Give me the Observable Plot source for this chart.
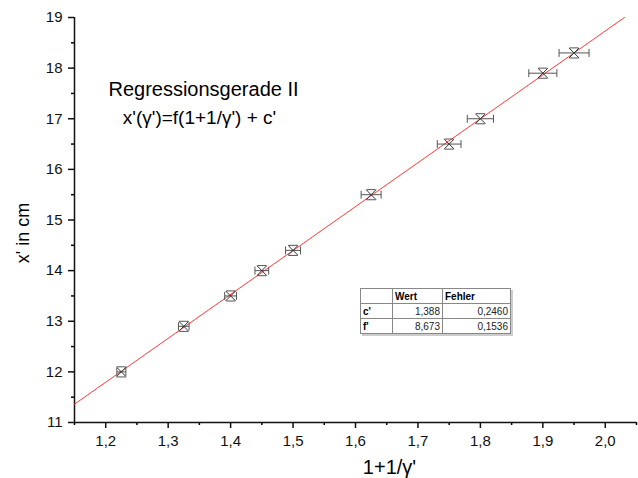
<!DOCTYPE html>
<html>
<head>
<meta charset="utf-8">
<script src="https://cdn.jsdelivr.net/npm/d3@7"></script>
<script src="https://cdn.jsdelivr.net/npm/@observablehq/plot@0.6"></script>
<style>
  html, body { margin: 0; padding: 0; background: #fff; }
  #wrap { position: relative; width: 638px; height: 478px; overflow: hidden; font-family: "Liberation Sans", Arial, sans-serif; }
  #fit { position: absolute; left: 360px; top: 288px; border-collapse: collapse; font-size: 10px; background: #fff; box-shadow: 2px 2px 0 #ccc; }
  #fit td { border: 1px solid #888; padding: 0 2px; height: 14px; line-height: 13px; }
  #fit td.h { font-weight: bold; text-align: left; }
  #fit td.n { text-align: right; color: #222; }
</style>
</head>
<body>
<div id="wrap"></div>
<script>
// data
const xVals = [1.225, 1.325, 1.4, 1.45, 1.5, 1.625, 1.75, 1.8, 1.9, 1.95];
const yVals = [12.0, 12.9, 13.5, 14.0, 14.4, 15.5, 16.5, 17.0, 17.9, 18.3];
const xErr  = [0.0072, 0.0085, 0.0095, 0.011, 0.012, 0.016, 0.019, 0.021, 0.0225, 0.024];
const yErr  = [0.1, 0.1, 0.1, 0.1, 0.1, 0.1, 0.1, 0.1, 0.1, 0.1];
const xTicks = [1.2, 1.3, 1.4, 1.5, 1.6, 1.7, 1.8, 1.9, 2.0];
const xMinor = [1.15, 1.25, 1.35, 1.45, 1.55, 1.65, 1.75, 1.85, 1.95, 2.05];
const yTicks = [11, 12, 13, 14, 15, 16, 17, 18, 19];
const yMinor = [11.5, 12.5, 13.5, 14.5, 15.5, 16.5, 17.5, 18.5];
const fitNames = ["c'", "f'"];
const fitWert = [1.388, 8.673];
const fitFehler = [0.2460, 0.1536];
const xDomain = [1.15, 2.05];
const yDomain = [11, 19];

const pts = xVals.map((x, i) => ({x, y: yVals[i], ex: xErr[i], ey: yErr[i]}));
const c = fitWert[0], f = fitWert[1];
const xEnd = Math.min(xDomain[1], (yDomain[1] - c) / f);
const fitLine = [xDomain[0], xEnd].map(x => ({x, y: c + f * x}));

const hline = {draw(ctx, size) { const r = Math.sqrt(size / Math.PI); ctx.moveTo(-r, 0); ctx.lineTo(r, 0); }};
const vline = {draw(ctx, size) { const r = Math.sqrt(size / Math.PI); ctx.moveTo(0, -r); ctx.lineTo(0, r); }};
const comma = d => d.toFixed(1).replace(".", ",");
const FONT = "Liberation Sans, Arial, sans-serif";

const chart = Plot.plot({
  width: 638, height: 478,
  marginLeft: 74, marginRight: 2, marginTop: 17, marginBottom: 56,
  style: {fontFamily: FONT, background: "#fff", overflow: "visible"},
  x: {domain: xDomain},
  y: {domain: yDomain},
  marks: [
    Plot.axisX({ticks: xTicks, tickFormat: comma, tickSize: 6, tickPadding: 7, fontSize: 15, strokeWidth: 1.5, label: null, color: "#111"}),
    Plot.axisX({ticks: xMinor, tickFormat: () => "", tickSize: 3, strokeWidth: 1.5, label: null}),
    Plot.axisY({ticks: yTicks, tickFormat: d => String(d), tickSize: 6, tickPadding: 6, fontSize: 15, strokeWidth: 1.5, label: null, color: "#111"}),
    Plot.axisY({ticks: yMinor, tickFormat: () => "", tickSize: 3, strokeWidth: 1.5, label: null}),
    Plot.ruleY([yDomain[0]], {stroke: "#111", strokeWidth: 1.5}),
    Plot.ruleX([xDomain[0]], {stroke: "#111", strokeWidth: 1.5}),
    Plot.line(fitLine, {x: "x", y: "y", stroke: "#ff3b3b", strokeWidth: 1}),
    // x error bars
    Plot.link(pts, {x1: d => d.x - d.ex, x2: d => d.x + d.ex, y1: "y", y2: "y", stroke: "#555", strokeWidth: 1}),
    Plot.dot(pts, {x: d => d.x - d.ex, y: "y", symbol: vline, r: 4, stroke: "#555", strokeWidth: 1}),
    Plot.dot(pts, {x: d => d.x + d.ex, y: "y", symbol: vline, r: 4, stroke: "#555", strokeWidth: 1}),
    // y error bar caps (bar itself hidden inside the symbol)
    Plot.dot(pts, {x: "x", y: d => d.y - d.ey, symbol: hline, r: 4.5, stroke: "#555", strokeWidth: 1}),
    Plot.dot(pts, {x: "x", y: d => d.y + d.ey, symbol: hline, r: 4.5, stroke: "#555", strokeWidth: 1}),
    // markers
    Plot.dot(pts, {x: "x", y: "y", symbol: "times", r: 4.6, stroke: "#333", strokeWidth: 1}),
    // annotations
    Plot.text(["Regressionsgerade II"], {frameAnchor: "top-left", dx: 129, dy: 72, fontSize: 20, fill: "#000", textAnchor: "middle", lineAnchor: "middle"}),
    Plot.text(["x'(γ')=f(1+1/γ') + c'"], {frameAnchor: "top-left", dx: 125, dy: 100, fontSize: 19, fill: "#000", textAnchor: "middle", lineAnchor: "middle"}),
    Plot.text(["x' in cm"], {frameAnchor: "left", dx: -51, dy: 13, rotate: -90, fontSize: 18, fill: "#000", textAnchor: "middle", lineAnchor: "middle"}),
    Plot.text(["1+1/γ'"], {frameAnchor: "bottom", dx: 34, dy: 45, fontSize: 20, fill: "#000", textAnchor: "middle", lineAnchor: "middle"})
  ]
});

const wrap = document.getElementById("wrap");
wrap.appendChild(chart);

const table = document.createElement("table");
table.id = "fit";
let html = '<tr><td style="width:27px"></td><td class="h" style="width:45px">Wert</td><td class="h" style="width:63px">Fehler</td></tr>';
fitNames.forEach((n, i) => {
  html += `<tr><td class="h">${n}</td><td class="n">${fitWert[i].toFixed(3).replace(".", ",")}</td><td class="n">${fitFehler[i].toFixed(4).replace(".", ",")}</td></tr>`;
});
table.innerHTML = html;
wrap.appendChild(table);
</script>
</body>
</html>
